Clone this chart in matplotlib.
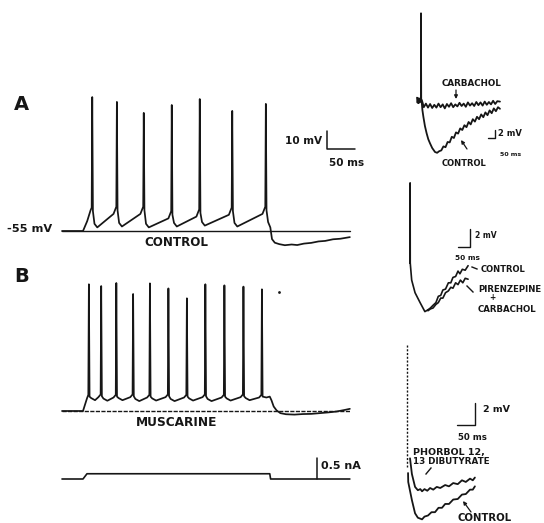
import matplotlib
matplotlib.use('Agg')
import matplotlib.pyplot as plt

INK = '#161616'
FONT = 'DejaVu Sans'

# ---------------- data (ms, mV, nA) ----------------
REST_MV = -55
ONSET_MS = 37.5
OFFSET_MS = 371
END_MS = 514

# Panel A : control
A_rise = [(45, -49.5), (51, -43.5)]
A_spike_ms = [54, 98, 146, 196, 246, 304, 364]
A_peak_mv = [19.4, 16.7, 10.6, 15.0, 18.3, 11.7, 15.6]
A_thresh_mv = [-42.0, -41.5, -41.5, -44.0, -43.0, -42.0, -41.5]
A_trough_mv = [-53.0, -52.5, -53.0, -52.5, -52.0, -52.5]
A_tail = [(368, -50), (372, -53), (375, -59.5), (380, -61.5), (388, -62.3),
          (398, -62.9), (410, -62.5), (420, -62.8), (432, -62.0), (445, -61.6),
          (458, -60.8), (470, -60.5), (484, -59.6), (497, -59.3), (514, -58.4)]

# Panel B : muscarine
B_rise = [(44.6, -48.0), (47, -46.0)]
B_spike_ms = [48, 70, 97, 127, 157, 190, 223, 256, 290, 324, 357]
B_peak_mv = [15.4, 14.4, 16.1, 10.0, 15.9, 13.1, 7.6, 15.4, 14.8, 14.1, 12.6]
B_thresh_mv = [-46.0, -45.8, -46.0, -45.8, -46.0, -45.8, -46.0, -45.8, -46.0, -45.8, -46.0]
B_trough_mv = [-49.0, -49.3, -49.0, -49.5, -49.2, -49.5, -49.2, -49.5, -49.2, -49.0]
B_tail = [(365, -47.5), (371, -47.0), (374, -49), (378, -52.5), (383, -54.6),
          (390, -56.2), (400, -56.8), (415, -57.0), (430, -56.7), (445, -56.6),
          (460, -56.2), (475, -55.8), (490, -55.3), (505, -54.4), (514, -53.8)]
B_dot = (387, 11)

# injected current
I_ms = [0, ONSET_MS, 44.6, OFFSET_MS, 372.5, END_MS]
I_nA = [0, 0, 0.125, 0.125, 0, 0]

# Right 1 : carbachol vs control
R1_pre_ms = [-29, -25, -21, -17, -12, -8, -4, -1]
R1_pre_mv = [0.6, -0.7, 0.5, -0.8, 0.4, -0.6, 0.3, 0.0]
R1_spike_top = 21.7
R1_carb_ms = [4, 10, 20, 35, 50, 65, 80, 95, 110, 125, 140, 155, 170, 185, 200, 215,
              230, 245, 260, 275, 290, 305, 320, 335, 350, 365, 380, 395, 410, 425,
              440, 455, 470, 485, 500, 515, 530, 545, 564]
R1_carb_mv = [0.0, -0.5, -1.8, -0.9, -1.9, -1.0, -2.0, -1.2, -1.9, -0.9, -1.8, -1.1,
              -2.1, -1.0, -1.7, -0.8, -1.8, -1.1, -1.6, -0.7, -1.5, -0.9, -1.7, -0.6,
              -1.4, -0.8, -1.5, -0.5, -1.3, -0.6, -1.4, -0.4, -1.2, -0.5, -1.1, -0.2,
              -1.0, -0.3, -0.4]
R1_ctrl_ms = [4, 10, 17, 28, 40, 52, 64, 80, 100, 115, 130, 145, 160, 175, 190, 205,
              220, 235, 250, 265, 280, 295, 310, 325, 340, 355, 370, 385, 400, 415,
              430, 445, 460, 475, 490, 505, 520, 535, 550, 564]
R1_ctrl_mv = [0, -2.5, -4.2, -6.5, -8.3, -9.8, -10.8, -12, -13, -13.2, -12.8, -12.6,
              -11.6, -11.8, -10.5, -10.6, -9.2, -9.5, -8.1, -8.4, -7.1, -7.5, -6.3,
              -6.8, -5.5, -6.1, -4.8, -5.4, -4.2, -4.8, -3.6, -4.3, -3.1, -3.8, -2.6,
              -3.3, -2.1, -2.8, -1.8, -2.2]

# Right 2 : pirenzepine + carbachol vs control
R2_spike_top = 8.9
R2_fall_ms = [1, 7, 21, 42, 62, 75]
R2_fall_mv = [0, -1.9, -3.3, -4.4, -5.4, -5.2]
R2_ctrl_ms = [75, 85, 96, 108, 118, 128, 137, 148, 160, 170, 179, 190, 200, 208, 218, 230, 242]
R2_ctrl_mv = [-5.2, -5.0, -4.7, -4.4, -3.7, -3.6, -3.0, -2.9, -2.2, -2.2, -1.6, -1.5,
              -0.9, -1.2, -0.7, -0.8, -0.3]
R2_pir_ms = [75, 85, 96, 108, 118, 128, 137, 148, 160, 170, 179, 190, 200, 210, 220, 230, 242]
R2_pir_mv = [-5.3, -5.1, -5.0, -4.6, -4.4, -3.9, -3.9, -3.3, -3.1, -2.7, -2.8, -2.2,
             -2.4, -1.9, -2.2, -1.7, -1.8]

# Right 3 : phorbol 12,13 dibutyrate vs control
R3_spike_top = 12.0
R3_spike_bottom = 0.9
R3_phor_ms = [8.6, 14, 23, 31, 38, 43, 50, 58, 66, 75, 85, 95, 109, 120, 132, 145, 157,
              168, 180, 188, 194]
R3_phor_mv = [1.7, 0.27, -0.9, -1.2, -1.1, -1.3, -1.1, -1.25, -1.0, -1.15, -0.9, -1.0,
              -0.73, -0.85, -0.55, -0.65, -0.3, -0.45, -0.15, -0.3, -0.05]
R3_ctrl_ms = [3, 3.5, 14, 23, 31, 43, 50, 60, 70, 80, 90, 100, 109, 120, 132, 145, 157,
              168, 180, 188, 194]
R3_ctrl_mv = [0.36, -0.45, -2.1, -3.3, -3.7, -3.85, -3.6, -3.5, -3.2, -3.2, -2.8, -2.8,
              -2.45, -2.45, -2.05, -2.0, -1.6, -1.55, -1.15, -1.15, -0.85]


# ---------------- helpers ----------------
W, H = 544, 523
fig = plt.figure(figsize=(W / 100, H / 100), dpi=100)
fig.patch.set_facecolor('white')


def panel(box, x0, y0, sx, sy):
    """box in pixels (l, t, r, b); data 0 sits at pixel (x0, y0); sx, sy px per unit."""
    l, t, r, b = box
    ax = fig.add_axes([l / W, 1 - b / H, (r - l) / W, (b - t) / H])
    ax.set_xlim((l - x0) / sx, (r - x0) / sx)
    ax.set_ylim((y0 - b) / sy, (y0 - t) / sy)
    ax.axis('off')
    ax.patch.set_alpha(0)
    return ax


def train(rise, spikes, peaks, thr, troughs, tail, after, pre):
    pts = [(0, REST_MV), (ONSET_MS, REST_MV)] + list(rise)
    n = len(spikes)
    for i in range(n):
        ts = spikes[i]
        pts += [(ts - 1, thr[i]), (ts, peaks[i]), (ts + 1.2, thr[i] - after[0])]
        if i < n - 1:
            pts += [(ts + after[1], troughs[i] + after[2]), (ts + after[3], troughs[i]),
                    (spikes[i + 1] - pre[0], thr[i + 1] - pre[1])]
    pts += list(tail)
    return [p[0] for p in pts], [p[1] for p in pts]


def line(ax, x, y, lw=1.25, **kw):
    ax.plot(x, y, color=INK, lw=lw, solid_joinstyle='round', solid_capstyle='round',
            clip_on=False, **kw)


# ---------------- panel A ----------------
axA = panel((40, 80, 380, 262), 62, 231 - 55 * 1.8, 0.56, 1.8)
line(axA, [0, END_MS], [REST_MV, REST_MV], lw=1.0)
tx, ty = train(A_rise, A_spike_ms, A_peak_mv, A_thresh_mv, A_trough_mv, A_tail,
               after=(2, 4, 2, 9), pre=(6, 4))
line(axA, tx, ty)
# 10 mV / 50 ms scale bar
sbx, sby = 473, -9.4
line(axA, [sbx, sbx, sbx + 50], [sby + 10, sby, sby], lw=1.1)

# ---------------- panel B ----------------
axB = panel((40, 268, 380, 440), 62, 411 - 55 * 1.8, 0.56, 1.8)
line(axB, [0, END_MS], [REST_MV, REST_MV], lw=1.0, ls=(0, (3, 1)))
tx, ty = train(B_rise, B_spike_ms, B_peak_mv, B_thresh_mv, B_trough_mv, B_tail,
               after=(1.0, 4, 1.2, 11), pre=(5, 1.5))
line(axB, tx, ty)
axB.plot([B_dot[0]], [B_dot[1]], 'o', color=INK, ms=2, mec='none', clip_on=False)

# ---------------- current ----------------
axI = panel((40, 445, 380, 495), 62, 479, 0.56, 42)
line(axI, I_ms, I_nA, lw=1.2)
line(axI, [455, 455], [0, 0.5], lw=1.1)

# ---------------- right 1 ----------------
axR1 = panel((395, 5, 544, 175), 421, 100, 0.14, 4)
line(axR1, R1_pre_ms + [0, 2], R1_pre_mv + [R1_spike_top, 0], lw=1.2)
line(axR1, R1_carb_ms, R1_carb_mv, lw=1.3)
line(axR1, R1_ctrl_ms, R1_ctrl_mv, lw=1.3)
line(axR1, [529, 529, 479], [-7.5, -9.5, -9.5], lw=1.0)

# ---------------- right 2 ----------------
axR2 = panel((395, 175, 544, 330), 410, 263, 0.24, 9)
line(axR2, [0, 0.5] + R2_fall_ms, [0, R2_spike_top] + R2_fall_mv, lw=1.2)
line(axR2, R2_ctrl_ms, R2_ctrl_mv, lw=1.2)
line(axR2, R2_pir_ms, R2_pir_mv, lw=1.2)
line(axR2, [250, 250, 200], [3.8, 1.8, 1.8], lw=1.0)

# ---------------- right 3 ----------------
axR3 = panel((395, 335, 544, 523), 407, 477, 0.35, 11)
line(axR3, [0, 0], [R3_spike_top, R3_spike_bottom], lw=1.0, ls=(0, (1.5, 1.2)))
line(axR3, R3_phor_ms, R3_phor_mv, lw=1.3)
line(axR3, R3_ctrl_ms, R3_ctrl_mv, lw=1.3)
line(axR3, [194, 194, 144], [6.7, 4.7, 4.7], lw=1.0)

# ---------------- text overlay (pixel coordinates) ----------------
ov = fig.add_axes([0, 0, 1, 1])
ov.set_xlim(0, W)
ov.set_ylim(H, 0)
ov.axis('off')
ov.patch.set_alpha(0)


def txt(x, y, s, size, ha='left'):
    ov.text(x, y, s, fontsize=size, fontweight='bold', family=FONT, color=INK,
            ha=ha, va='center')


def ptr(x1, y1, x2, y2, head=False):
    if head:
        ov.annotate('', xy=(x2, y2), xytext=(x1, y1),
                    arrowprops=dict(arrowstyle='-|>', color=INK, lw=0.9,
                                    mutation_scale=5, shrinkA=0, shrinkB=0))
    else:
        ov.plot([x1, x2], [y1, y2], color=INK, lw=1.0)


txt(14, 104, 'A', 14)
txt(14, 277, 'B', 14)
txt(322, 141, '10 mV', 7.6, ha='right')
txt(329, 163, '50 ms', 7.5)
txt(7, 229, '-55 mV', 8.2)
txt(176, 243, 'CONTROL', 8.6, ha='center')
txt(177, 423, 'MUSCARINE', 8.7, ha='center')
txt(321, 466, '0.5 nA', 8)

txt(472, 84, 'CARBACHOL', 6.3, ha='center')
ptr(456, 90, 456, 99, head=True)
txt(442, 163, 'CONTROL', 6)
ptr(467, 149, 461, 140, head=True)
txt(498, 134, '2 mV', 6)
txt(500, 154, '50 ms', 4.5)

txt(475, 236, '2 mV', 5.5)
txt(455, 258, '50 ms', 5.3)
txt(481, 269, 'CONTROL', 6)
ptr(472, 267, 477, 269)
txt(478, 289, 'PIRENZEPINE', 6.2)
ptr(467, 286, 473, 292)
txt(492, 298, '+', 5.5, ha='center')
txt(478, 309, 'CARBACHOL', 6.2)

txt(483, 410, '2 mV', 6.8)
txt(458, 438, '50 ms', 6.2)
txt(413, 452, 'PHORBOL 12,', 6.8)
txt(413, 461, '13 DIBUTYRATE', 6.3)
ptr(431, 468, 426, 474)
txt(457, 518, 'CONTROL', 7.3)
ptr(471, 512, 463, 501, head=True)

fig.savefig('out.png', dpi=100, facecolor='white')
